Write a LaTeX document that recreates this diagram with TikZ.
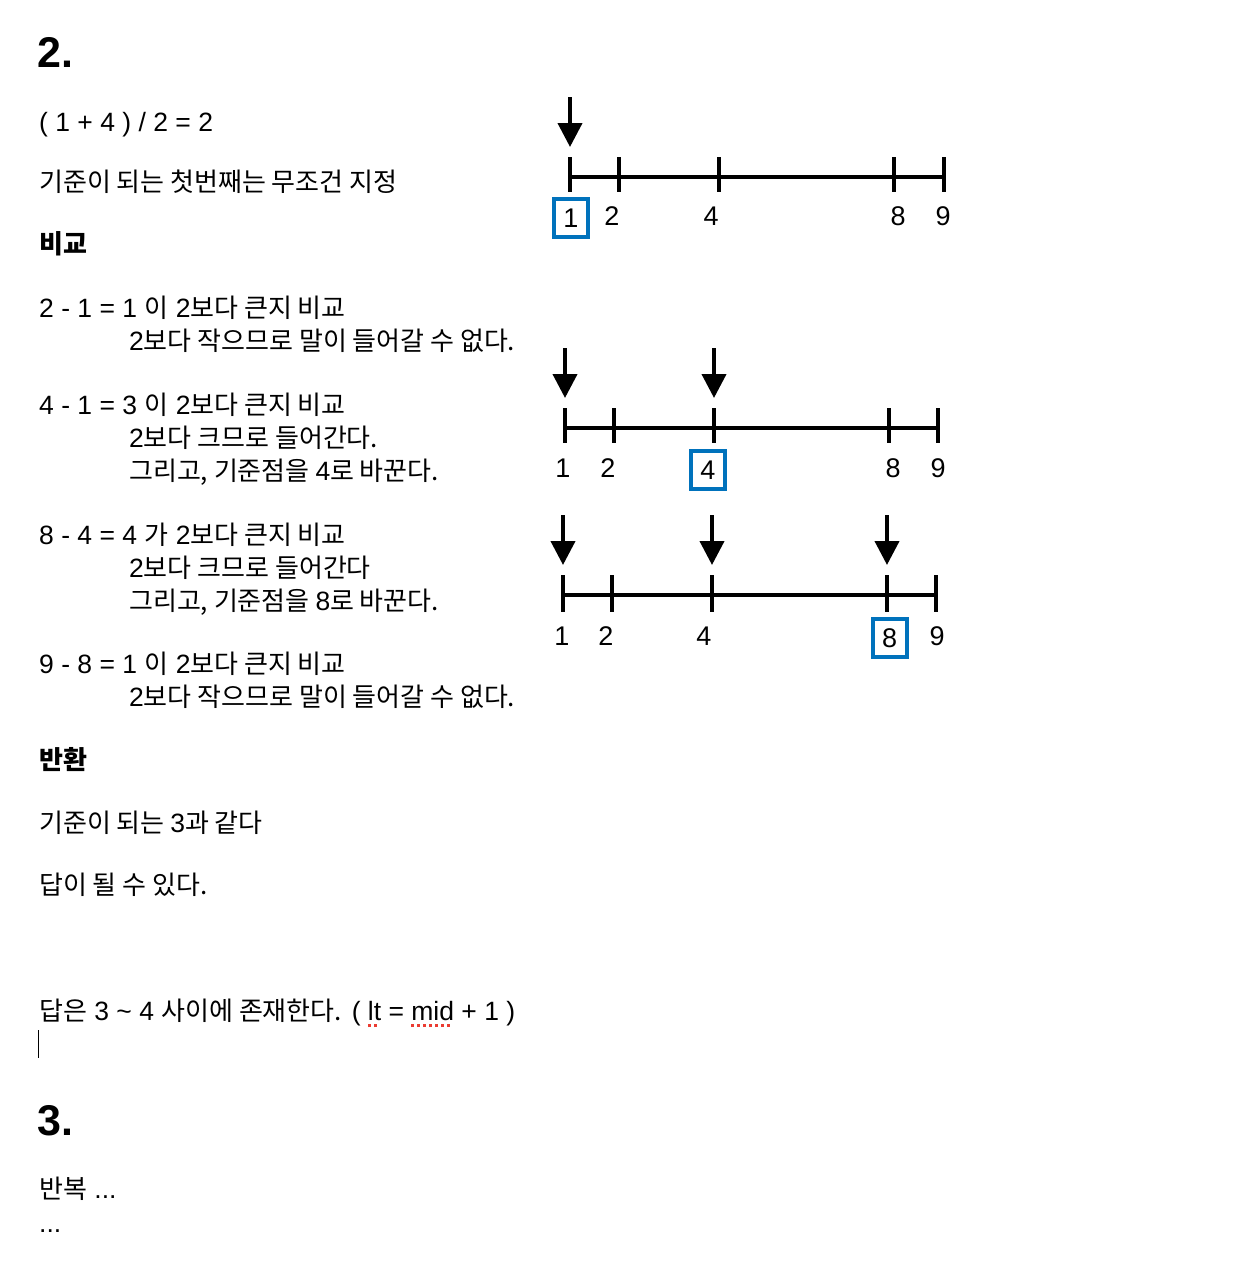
\documentclass[tikz,border=0pt]{standalone}
\usepackage{fontspec}
\setmainfont{Noto Sans CJK KR}
\newfontfamily\arialf{Liberation Sans}
\usetikzlibrary{arrows.meta}
\definecolor{boxblue}{RGB}{0,114,188}
\definecolor{squigred}{RGB}{235,60,50}
\newcommand\lat[1]{{\arialf\fontsize{26.5}{30}\selectfont #1}}
\newcommand\redsq[1]{\setbox0\hbox{#1}\rlap{\raisebox{-7pt}{\color{squigred}\leaders\hbox to 6pt{\rule{3pt}{3pt}\hfill}\hskip\wd0}}\box0\relax}
\begin{document}
\begin{tikzpicture}[x=1pt,y=-1pt,
 body/.style={anchor=base west, inner sep=0pt, font=\fontsize{26}{30}\selectfont},
 hd/.style={anchor=base west, inner sep=0pt, font=\fontsize{26}{30}\selectfont\bfseries},
 big/.style={anchor=base west, inner sep=0pt, font=\arialf\fontsize{43}{48}\selectfont\bfseries},
 num/.style={inner sep=0pt, font=\arialf\fontsize{27}{32}\selectfont},
 sel/.style={num, draw=boxblue, line width=4pt, minimum width=34pt, minimum height=38pt},
 axisline/.style={line width=4pt},
 tickline/.style={line width=4pt},
 ptr/.style={line width=4pt, -{Triangle[width=24pt,length=24pt]}}]
\useasboundingbox (0,0) rectangle (1238,1272);
\fill[white] (0,0) rectangle (1238,1272);

% ---------- left text ----------
\node[big]  (h2)   at (37,67)   {2.};
\node[body] (t1)   at (39,131)  {\lat{( 1 + 4 ) / 2 = 2}};
\node[body] (t2)   at (39,191)  {기준이 되는 첫번째는 무조건 지정};
\node[hd]   (t3)   at (39,253)  {비교};
\node[body] (t4)   at (39,317)  {\lat{2 - 1 = 1 }이\lat{ 2}보다 큰지 비교};
\node[body] (t5)   at (129,350) {\lat{2}보다 작으므로 말이 들어갈 수 없다.};
\node[body] (t6)   at (39,414)  {\lat{4 - 1 = 3 }이\lat{ 2}보다 큰지 비교};
\node[body] (t7)   at (129,447) {\lat{2}보다 크므로 들어간다.};
\node[body] (t8)   at (129,480) {그리고, 기준점을 \lat{4}로 바꾼다.};
\node[body] (t9)   at (39,544)  {\lat{8 - 4 = 4 }가\lat{ 2}보다 큰지 비교};
\node[body] (t10)  at (129,577) {\lat{2}보다 크므로 들어간다};
\node[body] (t11)  at (129,610) {그리고, 기준점을 \lat{8}로 바꾼다.};
\node[body] (t12)  at (39,673)  {\lat{9 - 8 = 1 }이\lat{ 2}보다 큰지 비교};
\node[body] (t13)  at (129,706) {\lat{2}보다 작으므로 말이 들어갈 수 없다.};
\node[hd]   (t14)  at (39,769)  {반환};
\node[body] (t15)  at (39,832)  {기준이 되는 \lat{3}과 같다};
\node[body] (t16)  at (39,894)  {답이 될 수 있다.};
\node[body] (t17)  at (39,1020) {답은\lat{ 3 \textasciitilde{} 4 }사이에 존재한다.\lat{ ( \redsq{lt} = \redsq{mid} + 1 )}};
\coordinate (cur1) at (38.5,1030);
\coordinate (cur2) at (38.5,1058);
\draw[line width=1.8pt] (cur1) -- (cur2);
\node[big]  (h3)   at (37,1135) {3.};
\node[body] (t18)  at (39,1198) {반복\lat{ ...}};
\node[body] (t19)  at (39,1232) {\lat{...}};

% ---------- number line 1 ----------
\coordinate (a1) at (570,177);  \coordinate (b1) at (619,177);
\coordinate (c1) at (719,177);  \coordinate (d1) at (894,177);
\coordinate (e1) at (944,177);
\draw[axisline] (a1) -- (e1);
\foreach \p in {a1,b1,c1,d1,e1}
  \draw[tickline] (\p) ++(0,-20) -- ++(0,35);
\coordinate (p1s) at (570,97);
\draw[ptr] (p1s) -- ([yshift=30pt]a1);
\node[sel] (n1a) at (571,218) {1};
\node[num] (n1b) at (612,216) {2};
\node[num] (n1c) at (711,216) {4};
\node[num] (n1d) at (898,216) {8};
\node[num] (n1e) at (943,216) {9};

% ---------- number line 2 ----------
\coordinate (a2) at (565,428);  \coordinate (b2) at (614,428);
\coordinate (c2) at (714,428);  \coordinate (d2) at (889,428);
\coordinate (e2) at (938,428);
\draw[axisline] (a2) -- (e2);
\foreach \p in {a2,b2,c2,d2,e2}
  \draw[tickline] (\p) ++(0,-20) -- ++(0,35);
\coordinate (p2s) at (565,348);
\coordinate (p2t) at (714,348);
\draw[ptr] (p2s) -- ([yshift=30pt]a2);
\draw[ptr] (p2t) -- ([yshift=30pt]c2);
\node[num] (n2a) at (563,468) {1};
\node[num] (n2b) at (608,468) {2};
\node[sel] (n2c) at (708,470) {4};
\node[num] (n2d) at (893,468) {8};
\node[num] (n2e) at (938,468) {9};

% ---------- number line 3 ----------
\coordinate (a3) at (563,595);  \coordinate (b3) at (612,595);
\coordinate (c3) at (712,595);  \coordinate (d3) at (887,595);
\coordinate (e3) at (936,595);
\draw[axisline] (a3) -- (e3);
\foreach \p in {a3,b3,c3,d3,e3}
  \draw[tickline] (\p) ++(0,-20) -- ++(0,37);
\coordinate (p3s) at (563,515);
\coordinate (p3t) at (712,515);
\coordinate (p3u) at (887,515);
\draw[ptr] (p3s) -- ([yshift=30pt]a3);
\draw[ptr] (p3t) -- ([yshift=30pt]c3);
\draw[ptr] (p3u) -- ([yshift=30pt]d3);
\node[num] (n3a) at (562,636) {1};
\node[num] (n3b) at (606,636) {2};
\node[num] (n3c) at (704,636) {4};
\node[sel] (n3d) at (889.5,638) {8};
\node[num] (n3e) at (937,636) {9};
\end{tikzpicture}
\end{document}
